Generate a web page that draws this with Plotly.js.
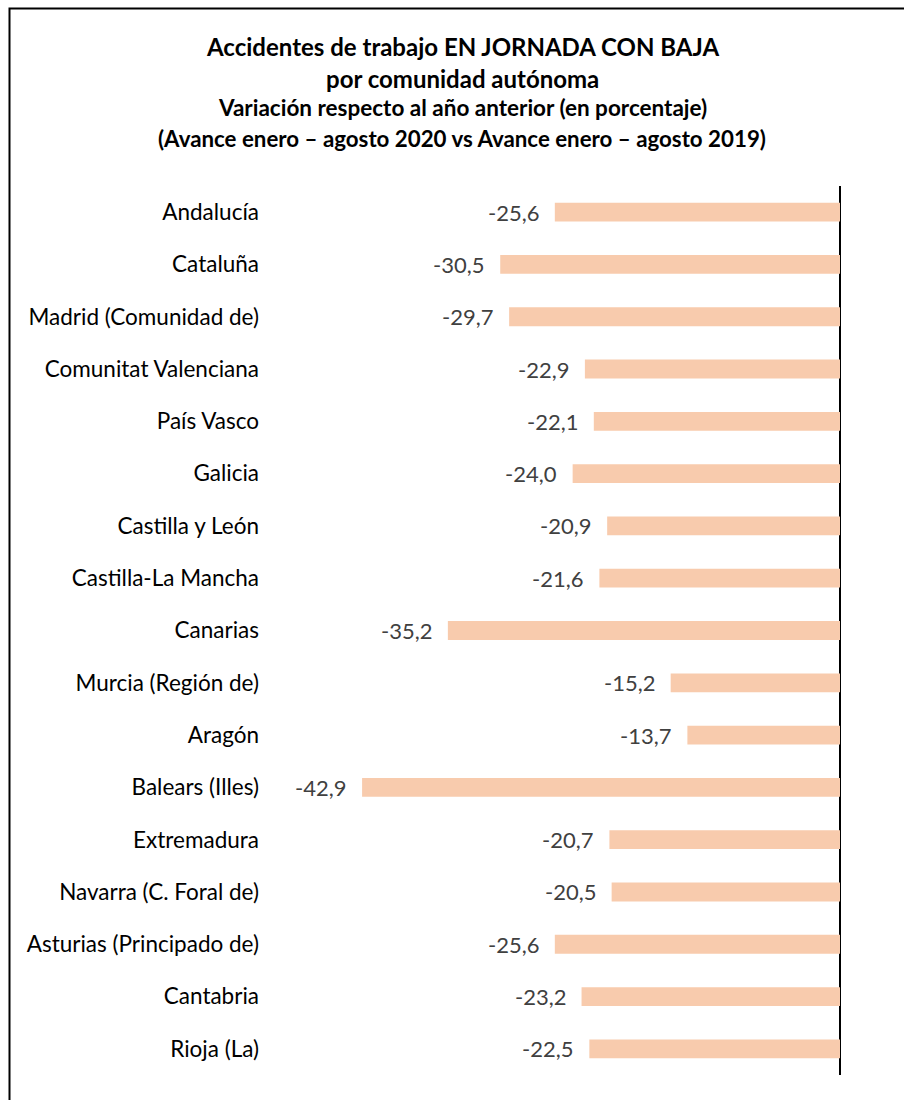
<!DOCTYPE html>
<html>
<head>
<meta charset="utf-8">
<script src="https://cdn.plot.ly/plotly-3.0.1.min.js"></script>
<style>html,body{margin:0;padding:0;background:#fff;}#chart{width:904px;height:1100px;}</style>
</head>
<body>
<div id="chart"></div>
<script>
const regions = ["Andalucía","Cataluña","Madrid (Comunidad de)","Comunitat Valenciana","País Vasco","Galicia","Castilla y León","Castilla-La Mancha","Canarias","Murcia (Región de)","Aragón","Balears (Illes)","Extremadura","Navarra (C. Foral de)","Asturias (Principado de)","Cantabria","Rioja (La)"];
const variation = [-25.6,-30.5,-29.7,-22.9,-22.1,-24.0,-20.9,-21.6,-35.2,-15.2,-13.7,-42.9,-20.7,-20.5,-25.6,-23.2,-22.5];
const titleLines = ["Accidentes de trabajo EN JORNADA CON BAJA","por comunidad autónoma","Variación respecto al año anterior (en porcentaje)","(Avance enero – agosto 2020 vs Avance enero – agosto 2019)"];

const W = 904, H = 1100;
const L = 290, R = 870, T = 186, B = 1075;
const zeroPx = 840, pxPerUnit = 11.14;
const xmin = -(zeroPx - L) / pxPerUnit, xmax = (R - zeroPx) / pxPerUnit;
const py = p => (B - p) / (B - T);
const pxp = p => (p - L) / (R - L);

const fmt = v => v.toFixed(1).replace('.', ',');
const FONT = 'Lato, "Open Sans", sans-serif';

const annotations = variation.map((v, i) => ({
  x: v, y: regions[i], xref: 'x', yref: 'y', text: fmt(v), showarrow: false,
  xanchor: 'right', yanchor: 'middle', xshift: -14,
  font: {family: FONT, size: 22, color: '#404040'}
}));
const titleY = [46, 78, 108, 138];
const titleSize = [24, 24, 22.5, 22.3];
titleLines.forEach((t, i) => annotations.push({
  x: pxp(462), xref: 'paper', y: py(titleY[i]), yref: 'paper', text: '<b>' + t + '</b>', showarrow: false,
  xanchor: 'center', yanchor: 'middle', font: {family: FONT, size: titleSize[i], color: '#000'}
}));

const data = [{
  type: 'bar', orientation: 'h', x: variation, y: regions,
  marker: {color: '#F8CBAD'}, hoverinfo: 'none'
}];

const layout = {
  width: W, height: H,
  margin: {l: L, r: W - R, t: T, b: H - B, pad: 0},
  paper_bgcolor: '#fff', plot_bgcolor: '#fff',
  showlegend: false, bargap: 0.64,
  xaxis: {range: [xmin, xmax], showgrid: false, showticklabels: false, ticks: '',
          zeroline: true, zerolinecolor: '#000', zerolinewidth: 2, showline: false, fixedrange: true},
  yaxis: {autorange: 'reversed', showgrid: false, ticks: '', showline: false, zeroline: false,
          ticklabelstandoff: 30, tickfont: {family: FONT, size: 22.5, color: '#000'}, fixedrange: true},
  annotations: annotations,
  shapes: [{type: 'rect', xref: 'paper', yref: 'paper', x0: pxp(9.5), x1: pxp(930), y0: py(1120), y1: py(8.5),
            line: {color: '#000', width: 2}, fillcolor: 'rgba(0,0,0,0)', layer: 'above'}]
};
Plotly.newPlot('chart', data, layout, {displayModeBar: false, staticPlot: true});
</script>
</body>
</html>
